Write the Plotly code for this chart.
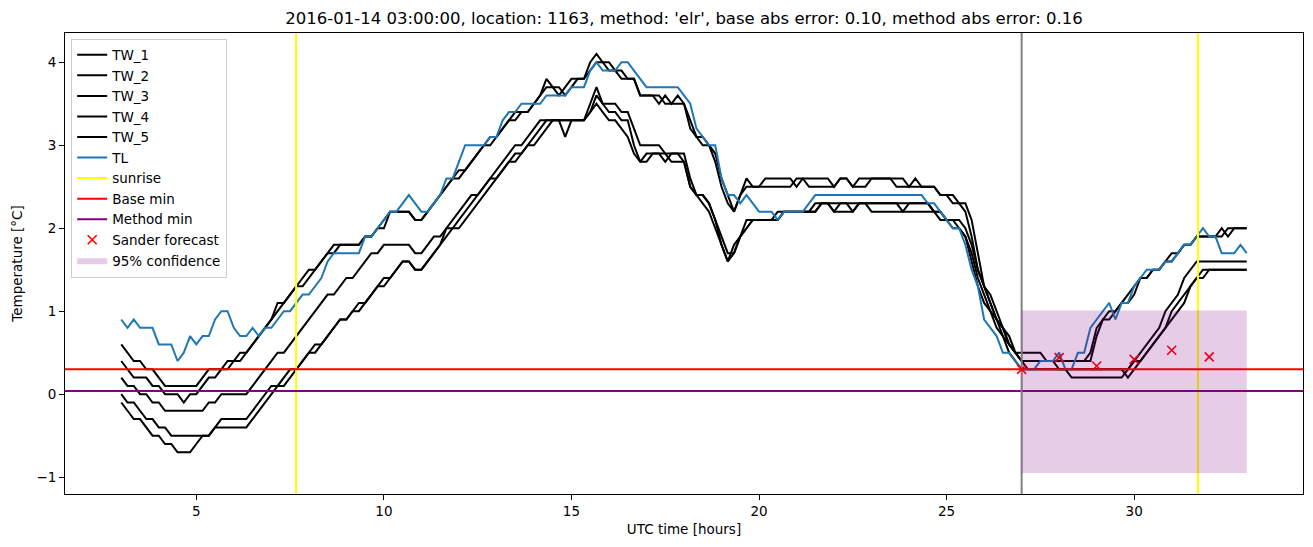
import plotly.graph_objects as go

# ---------------- data (10-minute samples, 03:00 -> 33:00 UTC hours) ----------------
START_HOUR = 3.0
STEP_HOURS = 1.0 / 6.0

TW_1 = [
    0.6, 0.5, 0.4, 0.4, 0.3, 0.3,   0.2, 0.1, 0.1, 0.1, 0.1, 0.1,
    0.1, 0.2, 0.3, 0.3, 0.3, 0.4,   0.4, 0.5, 0.5, 0.6, 0.7, 0.8,
    0.9, 1.1, 1.1, 1.2, 1.3, 1.4,   1.5, 1.5, 1.6, 1.7, 1.8, 1.8,
    1.8, 1.8, 1.8, 1.9, 1.9, 2.0,   2.0, 2.2, 2.2, 2.2, 2.2, 2.1,
    2.1, 2.2, 2.3, 2.4, 2.5, 2.6,   2.7, 2.7, 2.8, 2.9, 3.0, 3.1,
    3.1, 3.2, 3.3, 3.3, 3.4, 3.4,   3.5, 3.6, 3.8, 3.7, 3.6, 3.7,
    3.8, 3.8, 3.8, 4.0, 4.1, 4.0,   4.0, 3.9, 3.9, 3.8, 3.8, 3.6,
    3.6, 3.6, 3.5, 3.6, 3.5, 3.6,   3.5, 3.3, 3.1, 3.1, 3.0, 2.9,
    2.6, 2.4, 2.2, 2.4, 2.6, 2.5,   2.5, 2.6, 2.6, 2.6, 2.6, 2.6,
    2.5, 2.6, 2.6, 2.6, 2.6, 2.6,   2.5, 2.6, 2.6, 2.5, 2.6, 2.6,
    2.6, 2.6, 2.6, 2.6, 2.6, 2.6,   2.5, 2.6, 2.5, 2.5, 2.5, 2.4,
    2.4, 2.3, 2.3, 2.2, 1.9, 1.5,   1.3, 1.1, 0.9, 0.8, 0.6, 0.5,
    0.5, 0.5, 0.5, 0.5, 0.4, 0.4,   0.4, 0.4, 0.4, 0.4, 0.4, 0.5,
    0.8, 0.9, 1.0, 1.0, 1.1, 1.2,   1.3, 1.4, 1.4, 1.5, 1.5, 1.6,
    1.7, 1.7, 1.8, 1.8, 1.9, 1.9,   1.9, 1.9, 2.0, 1.9, 2.0, 2.0,
    2.0,
]
TW_2 = [
    0.4, 0.3, 0.2, 0.2, 0.2, 0.1,   0.1, 0.0, 0.0, 0.0, -0.1, 0.0,
    0.0, 0.1, 0.2, 0.2, 0.3, 0.3,   0.4, 0.4, 0.5, 0.6, 0.7, 0.8,
    0.9, 1.0, 1.1, 1.2, 1.3, 1.3,   1.4, 1.5, 1.6, 1.7, 1.7, 1.8,
    1.8, 1.8, 1.8, 1.9, 1.9, 2.0,   2.1, 2.2, 2.2, 2.2, 2.2, 2.1,
    2.1, 2.2, 2.3, 2.4, 2.5, 2.6,   2.6, 2.7, 2.8, 2.9, 3.0, 3.0,
    3.1, 3.2, 3.3, 3.4, 3.4, 3.4,   3.5, 3.6, 3.7, 3.7, 3.7, 3.6,
    3.7, 3.8, 3.8, 3.9, 4.0, 4.0,   3.9, 3.9, 3.8, 3.8, 3.8, 3.6,
    3.6, 3.6, 3.6, 3.5, 3.5, 3.5,   3.5, 3.2, 3.1, 3.0, 3.0, 2.8,
    2.5, 2.3, 2.2, 2.4, 2.5, 2.5,   2.5, 2.5, 2.5, 2.5, 2.5, 2.5,
    2.6, 2.6, 2.5, 2.5, 2.5, 2.5,   2.5, 2.6, 2.6, 2.5, 2.5, 2.5,
    2.6, 2.6, 2.6, 2.6, 2.5, 2.5,   2.5, 2.5, 2.5, 2.5, 2.5, 2.4,
    2.4, 2.4, 2.3, 2.3, 2.1, 1.7,   1.3, 1.2, 1.0, 0.8, 0.7, 0.5,
    0.4, 0.4, 0.4, 0.4, 0.4, 0.4,   0.4, 0.4, 0.4, 0.4, 0.4, 0.4,
    0.7, 0.9, 0.9, 1.0, 1.1, 1.1,   1.2, 1.4, 1.4, 1.5, 1.5, 1.6,
    1.6, 1.7, 1.8, 1.8, 1.9, 1.9,   1.9, 1.9, 1.9, 2.0, 2.0, 2.0,
    2.0,
]
TW_3 = [
    0.2, 0.1, 0.1, 0.0, 0.0, -0.1,  -0.1, -0.2, -0.2, -0.2, -0.2, -0.2,
    -0.2, -0.2, -0.1, -0.1, 0.0, 0.0,  0.0, 0.0, 0.0, 0.1, 0.2, 0.3,
    0.4, 0.5, 0.5, 0.6, 0.7, 0.8,   0.9, 1.0, 1.1, 1.2, 1.2, 1.3,
    1.4, 1.4, 1.5, 1.6, 1.7, 1.7,   1.8, 1.8, 1.8, 1.8, 1.8, 1.7,
    1.7, 1.8, 1.9, 1.9, 2.0, 2.1,   2.2, 2.3, 2.4, 2.4, 2.5, 2.6,
    2.7, 2.8, 2.9, 3.0, 3.0, 3.1,   3.2, 3.3, 3.3, 3.3, 3.3, 3.3,
    3.3, 3.3, 3.3, 3.5, 3.7, 3.5,   3.5, 3.5, 3.4, 3.4, 3.2, 3.0,
    3.0, 3.0, 3.0, 2.9, 2.9, 2.9,   2.9, 2.6, 2.4, 2.4, 2.3, 2.1,
    1.8, 1.6, 1.8, 1.9, 2.1, 2.1,   2.1, 2.1, 2.1, 2.2, 2.2, 2.2,
    2.2, 2.2, 2.2, 2.3, 2.3, 2.3,   2.2, 2.3, 2.3, 2.2, 2.3, 2.3,
    2.3, 2.3, 2.3, 2.3, 2.3, 2.2,   2.3, 2.3, 2.3, 2.3, 2.2, 2.2,
    2.1, 2.1, 2.0, 1.9, 1.7, 1.4,   1.2, 1.0, 0.9, 0.7, 0.6, 0.5,
    0.4, 0.4, 0.4, 0.4, 0.4, 0.4,   0.3, 0.3, 0.3, 0.3, 0.3, 0.3,
    0.3, 0.3, 0.3, 0.3, 0.3, 0.3,   0.4, 0.4, 0.5, 0.6, 0.7, 0.8,
    1.0, 1.1, 1.2, 1.3, 1.4, 1.5,   1.5, 1.5, 1.5, 1.5, 1.5, 1.5,
    1.5,
]
TW_4 = [
    0.0, -0.1, -0.1, -0.2, -0.3, -0.3,  -0.4, -0.4, -0.5, -0.5, -0.5, -0.5,
    -0.5, -0.5, -0.5, -0.4, -0.4, -0.4,  -0.4, -0.4, -0.4, -0.3, -0.2, -0.1,
    0.0, 0.1, 0.1, 0.2, 0.3, 0.4,   0.5, 0.6, 0.6, 0.7, 0.8, 0.9,
    0.9, 1.0, 1.1, 1.1, 1.2, 1.3,   1.4, 1.4, 1.5, 1.6, 1.6, 1.5,
    1.5, 1.6, 1.7, 1.8, 2.0, 2.0,   2.1, 2.2, 2.3, 2.4, 2.5, 2.6,
    2.6, 2.7, 2.8, 2.9, 2.9, 3.0,   3.1, 3.2, 3.3, 3.3, 3.3, 3.3,
    3.3, 3.3, 3.3, 3.4, 3.6, 3.5,   3.4, 3.4, 3.3, 3.3, 3.0, 2.8,
    2.9, 2.9, 2.9, 2.8, 2.9, 2.9,   2.8, 2.5, 2.4, 2.4, 2.3, 2.1,
    1.9, 1.7, 1.7, 1.9, 2.0, 2.1,   2.1, 2.1, 2.1, 2.1, 2.2, 2.2,
    2.2, 2.2, 2.2, 2.2, 2.3, 2.3,   2.3, 2.3, 2.3, 2.3, 2.3, 2.3,
    2.3, 2.3, 2.3, 2.3, 2.3, 2.3,   2.3, 2.3, 2.3, 2.3, 2.2, 2.2,
    2.1, 2.1, 2.1, 2.0, 1.8, 1.5,   1.3, 1.1, 0.9, 0.8, 0.6, 0.5,
    0.4, 0.3, 0.3, 0.3, 0.3, 0.3,   0.3, 0.3, 0.2, 0.2, 0.2, 0.2,
    0.2, 0.2, 0.2, 0.2, 0.2, 0.3,   0.4, 0.5, 0.6, 0.7, 0.8, 1.0,
    1.1, 1.2, 1.4, 1.5, 1.6, 1.6,   1.6, 1.6, 1.6, 1.6, 1.6, 1.6,
    1.6,
]
TW_5 = [
    -0.1, -0.2, -0.3, -0.3, -0.4, -0.5,  -0.5, -0.6, -0.6, -0.7, -0.7, -0.7,
    -0.6, -0.5, -0.5, -0.4, -0.3, -0.3,  -0.3, -0.3, -0.3, -0.2, -0.1, 0.0,
    0.1, 0.1, 0.2, 0.3, 0.3, 0.4,   0.5, 0.5, 0.6, 0.7, 0.8, 0.9,
    0.9, 1.0, 1.0, 1.1, 1.2, 1.3,   1.3, 1.4, 1.5, 1.6, 1.6, 1.5,
    1.5, 1.6, 1.7, 1.8, 1.9, 2.0,   2.0, 2.1, 2.2, 2.3, 2.4, 2.5,
    2.6, 2.7, 2.8, 2.8, 2.9, 3.0,   3.0, 3.1, 3.2, 3.3, 3.3, 3.1,
    3.3, 3.3, 3.3, 3.4, 3.5, 3.4,   3.3, 3.3, 3.2, 3.1, 2.9, 2.8,
    2.8, 2.9, 2.9, 2.9, 2.8, 2.8,   2.8, 2.5, 2.4, 2.3, 2.2, 2.0,
    1.8, 1.6, 1.7, 1.9, 2.0, 2.1,   2.1, 2.1, 2.1, 2.1, 2.2, 2.2,
    2.2, 2.2, 2.2, 2.2, 2.3, 2.3,   2.2, 2.2, 2.2, 2.2, 2.3, 2.3,
    2.2, 2.2, 2.2, 2.2, 2.2, 2.2,   2.2, 2.2, 2.2, 2.2, 2.2, 2.1,
    2.1, 2.0, 2.0, 1.9, 1.6, 1.3,   1.1, 1.0, 0.8, 0.7, 0.5, 0.4,
    0.3, 0.3, 0.3, 0.3, 0.3, 0.3,   0.3, 0.3, 0.3, 0.3, 0.3, 0.3,
    0.3, 0.3, 0.3, 0.3, 0.3, 0.2,   0.3, 0.4, 0.5, 0.6, 0.7, 0.8,
    0.9, 1.0, 1.1, 1.3, 1.4, 1.4,   1.5, 1.5, 1.5, 1.5, 1.5, 1.5,
    1.5,
]
TL = [
    0.9, 0.8, 0.9, 0.8, 0.8, 0.8,   0.6, 0.6, 0.6, 0.4, 0.5, 0.7,
    0.6, 0.7, 0.7, 0.9, 1.0, 1.0,   0.8, 0.7, 0.7, 0.8, 0.7, 0.8,
    0.8, 0.9, 1.0, 1.0, 1.1, 1.2,   1.2, 1.3, 1.4, 1.6, 1.7, 1.7,
    1.7, 1.7, 1.7, 1.9, 1.9, 2.0,   2.1, 2.2, 2.2, 2.3, 2.4, 2.3,
    2.2, 2.2, 2.3, 2.4, 2.6, 2.6,   2.8, 3.0, 3.0, 3.0, 3.0, 3.1,
    3.1, 3.3, 3.4, 3.4, 3.5, 3.5,   3.5, 3.5, 3.6, 3.6, 3.6, 3.6,
    3.7, 3.7, 3.7, 3.9, 4.0, 3.9,   3.9, 3.9, 4.0, 4.0, 3.9, 3.8,
    3.7, 3.7, 3.7, 3.7, 3.7, 3.7,   3.6, 3.5, 3.2, 3.1, 3.0, 3.0,
    2.6, 2.4, 2.4, 2.3, 2.4, 2.3,   2.2, 2.2, 2.2, 2.1, 2.2, 2.2,
    2.2, 2.2, 2.3, 2.4, 2.4, 2.4,   2.4, 2.4, 2.4, 2.4, 2.4, 2.4,
    2.4, 2.4, 2.4, 2.4, 2.4, 2.4,   2.4, 2.4, 2.4, 2.3, 2.3, 2.2,
    2.1, 2.0, 2.0, 1.8, 1.5, 1.3,   0.9, 0.8, 0.7, 0.5, 0.5, 0.4,
    0.3, 0.3, 0.3, 0.4, 0.4, 0.4,   0.5, 0.3, 0.3, 0.5, 0.5, 0.8,
    0.9, 1.0, 1.1, 0.9, 1.1, 1.1,   1.3, 1.4, 1.5, 1.5, 1.5, 1.6,
    1.6, 1.7, 1.8, 1.8, 1.9, 2.0,   1.9, 1.9, 1.7, 1.7, 1.7, 1.8,
    1.7,
]

SUNRISE_HOURS = [7.66, 31.70]
FORECAST_START_HOUR = 27.0
BASE_MIN = 0.30
METHOD_MIN = 0.04
FORECAST_HOURS = [27, 28, 29, 30, 31, 32]
SANDER_FORECAST = [0.30, 0.44, 0.34, 0.42, 0.53, 0.45]
CONF_HOURS = [27.0, 33.0]
CONF_LOW = -0.95
CONF_HIGH = 1.01

TITLE = ("2016-01-14 03:00:00, location: 1163, method: 'elr', "
         "base abs error: 0.10, method abs error: 0.16")
X_TICKS = [5, 10, 15, 20, 25, 30]
Y_TICKS = [-1, 0, 1, 2, 3, 4]
X_RANGE = [1.5, 34.5]
Y_RANGE = [-1.2025, 4.3525]

# ---------------- figure ----------------
times = [START_HOUR + i * STEP_HOURS for i in range(len(TL))]
FONT = "DejaVu Sans, Verdana, sans-serif"

fig = go.Figure()
for name, series in [("TW_1", TW_1), ("TW_2", TW_2), ("TW_3", TW_3),
                     ("TW_4", TW_4), ("TW_5", TW_5)]:
    fig.add_trace(go.Scatter(x=times, y=series, mode="lines", name=name,
                             line=dict(color="black", width=2)))
fig.add_trace(go.Scatter(x=times, y=TL, mode="lines", name="TL",
                         line=dict(color="#1f77b4", width=2)))

sx, sy = [], []
for t in SUNRISE_HOURS:
    sx += [t, t, None]
    sy += [Y_RANGE[0], Y_RANGE[1], None]
fig.add_trace(go.Scatter(x=sx, y=sy, mode="lines", name="sunrise",
                         line=dict(color="yellow", width=2)))
fig.add_trace(go.Scatter(x=X_RANGE, y=[BASE_MIN, BASE_MIN], mode="lines",
                         name="Base min", line=dict(color="red", width=2)))
fig.add_trace(go.Scatter(x=X_RANGE, y=[METHOD_MIN, METHOD_MIN], mode="lines",
                         name="Method min", line=dict(color="purple", width=2)))
fig.add_trace(go.Scatter(x=[FORECAST_START_HOUR, FORECAST_START_HOUR], y=Y_RANGE,
                         mode="lines", showlegend=False,
                         line=dict(color="grey", width=2)))
fig.add_trace(go.Scatter(x=FORECAST_HOURS, y=SANDER_FORECAST, mode="markers",
                         name="Sander forecast",
                         marker=dict(symbol="x-thin", size=9, color="red",
                                     line=dict(color="red", width=1.6))))
fig.add_trace(go.Scatter(x=[CONF_HOURS[0], CONF_HOURS[1], CONF_HOURS[1], CONF_HOURS[0]],
                         y=[CONF_HIGH, CONF_HIGH, CONF_LOW, CONF_LOW],
                         mode="lines", fill="toself", name="95% confidence",
                         fillcolor="rgba(128,0,128,0.2)",
                         line=dict(width=0, color="rgba(128,0,128,0.2)")))

axis_common = dict(showline=True, linecolor="black", linewidth=1, mirror=True,
                   ticks="outside", ticklen=5, tickwidth=1, tickcolor="black",
                   showgrid=False, zeroline=False,
                   tickfont=dict(family=FONT, size=13.5, color="black"))
fig.update_layout(
    width=1313, height=547,
    margin=dict(l=65, r=10, t=33, b=53),
    paper_bgcolor="white", plot_bgcolor="white",
    font=dict(family=FONT, size=13.5, color="black"),
    title=dict(text=TITLE, x=0.5, xref="paper", y=1 - 18 / 547, yref="container",
               xanchor="center", yanchor="middle",
               font=dict(family=FONT, size=16.5, color="black")),
    xaxis=dict(range=X_RANGE, tickvals=X_TICKS,
               title=dict(text="UTC time [hours]", standoff=6,
                          font=dict(family=FONT, size=13.5)),
               **axis_common),
    yaxis=dict(range=Y_RANGE, tickvals=Y_TICKS,
               title=dict(text="Temperature [°C]", standoff=10,
                          font=dict(family=FONT, size=13.5)),
               **axis_common),
    legend=dict(x=0.005, y=0.988, xanchor="left", yanchor="top",
                bgcolor="rgba(255,255,255,0.8)", bordercolor="#cccccc",
                borderwidth=1, font=dict(family=FONT, size=13.5),
                itemwidth=30, tracegroupgap=0),
    showlegend=True,
)

fig.write_html("out.html")
